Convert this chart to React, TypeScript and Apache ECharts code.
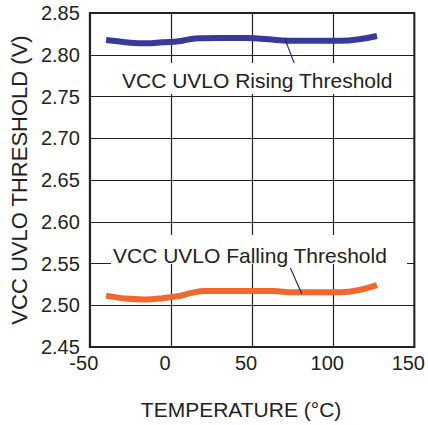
import React, { useEffect, useRef } from "react";
import * as echarts from "echarts";

const xTicks = [-50, 0, 50, 100, 150];
const risingTemp = [-40, -25, -15, -5, 5, 15, 30, 47, 60, 72, 90, 105, 127];
const risingVolt = [2.8177, 2.8145, 2.8137, 2.815, 2.8162, 2.8195, 2.82, 2.82, 2.8185, 2.8168, 2.8168, 2.8168, 2.8225];
const fallingTemp = [-40, -28, -16, -5, 5, 12, 21, 40, 63, 75, 90, 105, 127];
const fallingVolt = [2.5115, 2.508, 2.507, 2.5085, 2.511, 2.5145, 2.517, 2.517, 2.517, 2.5155, 2.5155, 2.5155, 2.524];
const risingLabel = "VCC UVLO Rising Threshold";
const fallingLabel = "VCC UVLO Falling Threshold";

const FONT = "'Liberation Sans', Arial, Helvetica, sans-serif";

export default function App() {
  const ref = useRef<HTMLDivElement>(null);
  useEffect(() => {
    if (!ref.current) return;
    const chart = echarts.init(ref.current, undefined, { renderer: "svg" });
    const rising = risingTemp.map((t, i) => [t, risingVolt[i]]);
    const falling = fallingTemp.map((t, i) => [t, fallingVolt[i]]);
    chart.setOption({
      animation: false,
      textStyle: { fontFamily: FONT },
      grid: {
        left: 84, right: 9, top: 13, bottom: 78,
        show: true, borderColor: "#222", borderWidth: 2, backgroundColor: "transparent",
      },
      xAxis: {
        type: "value", min: -50, max: 150, interval: 50,
        name: "TEMPERATURE (°C)", nameLocation: "middle", nameGap: 52,
        nameTextStyle: { fontSize: 21, color: "#222", fontFamily: FONT, padding: [0, 22, 0, 0] },
        axisLine: { show: true, onZero: false, lineStyle: { color: "#222", width: 2 } },
        axisTick: { show: false },
        axisLabel: { fontSize: 20, color: "#222", margin: 6, padding: [0, 12, 0, 0], fontFamily: FONT,
          formatter: (v: number) => (xTicks.includes(v) ? String(v) : "") },
        splitLine: { show: true, lineStyle: { color: "#222", width: 1.2 } },
      },
      yAxis: {
        type: "value", min: 2.45, max: 2.85, interval: 0.05,
        name: "VCC UVLO THRESHOLD (V)", nameLocation: "middle", nameGap: 58,
        nameTextStyle: { fontSize: 22, color: "#222", fontFamily: FONT },
        axisLine: { show: true, onZero: false, lineStyle: { color: "#222", width: 2 } },
        axisTick: { show: false },
        axisLabel: { fontSize: 20, color: "#222", margin: 10, padding: [4, 0, 0, 0], fontFamily: FONT,
          formatter: (v: number) => v.toFixed(2) },
        splitLine: { show: true, lineStyle: { color: "#222", width: 1.2 } },
      },
      graphic: [
        { type: "rect", z: 1, shape: { x: 112, y: 63, width: 298, height: 31 }, style: { fill: "#fff" } },
        { type: "text", z: 2, x: 122, y: 80, style: { text: risingLabel, fill: "#222", font: `21px ${FONT}`, textVerticalAlign: "middle", verticalAlign: "middle" } },
        { type: "rect", z: 1, shape: { x: 111, y: 235, width: 296, height: 29 }, style: { fill: "#fff" } },
        { type: "text", z: 2, x: 113, y: 255, style: { text: fallingLabel, fill: "#222", font: `21px ${FONT}`, textVerticalAlign: "middle", verticalAlign: "middle" } },
      ],
      series: [
        {
          type: "line", data: rising, smooth: 0.4, showSymbol: false, symbol: "none",
          lineStyle: { color: "#38399a", width: 6 }, z: 3,
          markLine: {
            silent: true, symbol: "none", label: { show: false },
            lineStyle: { color: "#2a2a70", width: 1.2, type: "solid" },
            data: [[{ coord: [70, 2.82] }, { coord: [76, 2.79] }]],
          },
        },
        {
          type: "line", data: falling, smooth: 0.4, showSymbol: false, symbol: "none",
          lineStyle: { color: "#f0682e", width: 6 }, z: 3,
          markLine: {
            silent: true, symbol: "none", label: { show: false },
            lineStyle: { color: "#2a2a70", width: 1.2, type: "solid" },
            data: [[{ coord: [73.6, 2.5446] }, { coord: [80.7, 2.5135] }]],
          },
        },
      ],
    });
    return () => chart.dispose();
  }, []);
  return <div ref={ref} style={{ width: 428, height: 425, position: "absolute", left: 0, top: 0 }} />;
}
